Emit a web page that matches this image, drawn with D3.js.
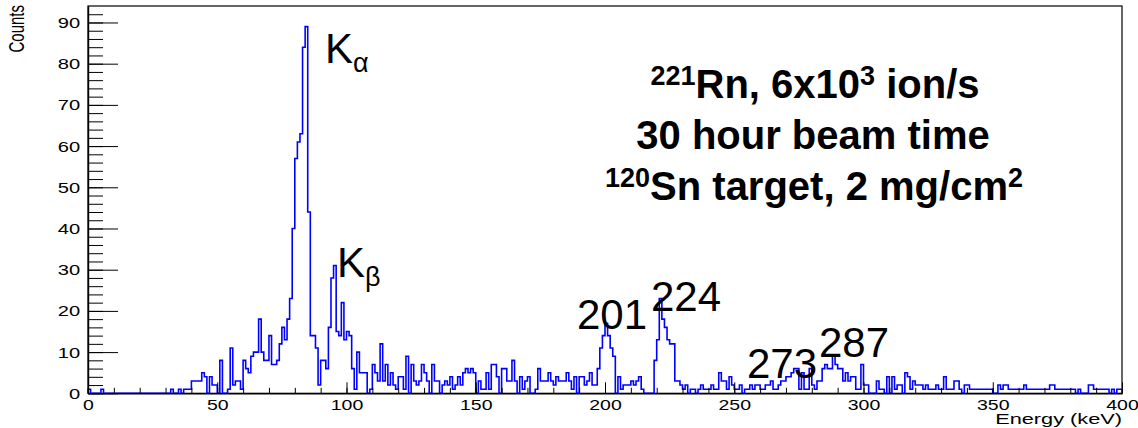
<!DOCTYPE html>
<html>
<head>
<meta charset="utf-8">
<script src="https://cdn.jsdelivr.net/npm/d3@7"></script>
<style>
  body { margin: 0; background: #fff; }
  text { font-family: "Liberation Sans", Arial, sans-serif; }
</style>
</head>
<body>
<svg id="chart" width="1138" height="428"></svg>
<script>
// counts per 1 keV bin
const counts0 = [1,0,0,0,0,1,0,0,0,0, 0,0,0,0,0,0,0,0,0,0, 0,0,0,0,0,0,0,0,0,0, 0,0,1,0,0,1,0,1,1,1, 3,3,3,3,5,4,0,4,2,2];
const counts50 = [0,8,0,0,1,11,2,3,3,1, 8,6,5,9,10,10,18,10,8,8, 14,7,7,8,12,16,13,18,23,40, 57,61,63,84,89,44,14,14,11,2, 8,8,6,16,28,31,15,14,22,13];
const counts100 = [15,14,6,1,10,5,5,5,0,1, 7,5,3,12,3,7,2,5,2,1, 4,4,1,9,0,7,3,2,3,7, 5,3,0,7,3,3,0,2,3,2, 4,1,2,4,2,5,6,5,6,5];
const counts150 = [0,3,1,1,5,1,7,7,4,0, 6,6,3,3,8,3,0,4,1,3, 4,0,0,1,6,3,3,3,5,3, 2,4,3,3,3,5,3,1,4,0, 4,4,2,3,5,2,2,6,11,14];
const counts200 = [17,14,11,9,0,4,1,2,2,2, 3,2,3,4,1,0,0,0,0,8, 13,23,18,16,13,12,12,3,3,2, 1,2,0,1,1,0,1,2,1,1, 1,2,1,1,5,3,3,1,4,2];
const counts250 = [1,1,2,0,1,1,2,1,2,2, 1,1,2,2,3,1,1,2,3,3, 4,4,5,6,6,1,5,1,1,6, 2,1,3,3,6,7,6,6,9,7, 6,6,3,5,3,4,4,1,1,7];
const counts300 = [2,2,0,0,0,3,1,1,0,4, 0,4,1,2,2,0,5,4,1,3, 2,2,2,1,2,1,1,1,2,1, 1,4,1,1,1,3,3,1,0,2, 2,1,1,1,1,1,1,1,1,1];
const counts350 = [0,0,2,1,2,2,1,1,1,1, 1,1,2,1,1,1,1,1,1,1, 1,1,2,2,1,1,1,1,1,1, 1,1,0,1,0,0,0,2,2,1, 1,1,1,1,1,0,1,0,1,1];
const counts = [].concat(counts0, counts50, counts100, counts150, counts200, counts250, counts300, counts350);

const xMajor = d3.range(0, 401, 50);
const xMinor = d3.range(0, 401, 10);
const yMajor = d3.range(0, 91, 10);
const yMinor = d3.range(0, 94, 2);

// peak labels [text, x px, baseline px]
const peakLabels = [["201", 577, 329], ["224", 651, 311], ["273", 747, 378], ["287", 819, 357]];

const svg = d3.select("#chart");
const frame = { left: 88, right: 1122, top: 6, bottom: 393.3 };
const sx = 1.3;   // ROOT labels look stretched sideways

const x = d3.scaleLinear().domain([0, 400]).range([frame.left, frame.right]);
const y = d3.scaleLinear().domain([0, 94]).range([frame.bottom, frame.top]);

// frame
svg.append("rect")
  .attr("x", frame.left).attr("y", frame.top)
  .attr("width", frame.right - frame.left).attr("height", frame.bottom - frame.top)
  .attr("fill", "none").attr("stroke", "#000").attr("stroke-width", 1.2);

// histogram outline
const pts = [[0, 0]];
counts.forEach((c, i) => { pts.push([i, c]); pts.push([i + 1, c]); });
pts.push([counts.length, 0]);

svg.append("path")
  .datum(pts)
  .attr("fill", "none")
  .attr("stroke", "#0000ff")
  .attr("stroke-width", 1.6)
  .attr("d", d3.line().x(d => x(d[0])).y(d => y(d[1])));

// x axis
const gxMinor = svg.append("g")
  .attr("transform", `translate(0,${frame.bottom})`)
  .call(d3.axisBottom(x).tickValues(xMinor).tickSize(-5.5).tickFormat(""));
gxMinor.select(".domain").remove();

const gx = svg.append("g")
  .attr("transform", `translate(0,${frame.bottom})`)
  .call(d3.axisBottom(x).tickValues(xMajor).tickSize(-11).tickPadding(6).tickSizeOuter(0));
gx.select(".domain").attr("stroke-width", 1.6);
gx.selectAll("text")
  .attr("transform", `scale(${sx},1)`)
  .style("font-size", "15px").attr("fill", "#000");

// y axis
const gyMinor = svg.append("g")
  .attr("transform", `translate(${frame.left},0)`)
  .call(d3.axisLeft(y).tickValues(yMinor).tickSize(-15).tickFormat(""));
gyMinor.select(".domain").remove();

const gy = svg.append("g")
  .attr("transform", `translate(${frame.left},0)`)
  .call(d3.axisLeft(y).tickValues(yMajor).tickSize(-30).tickPadding(6).tickSizeOuter(0));
gy.select(".domain").attr("stroke-width", 1.4);
gy.selectAll("text")
  .attr("transform", `scale(${sx},1)`)
  .style("font-size", "15.5px").attr("fill", "#000");

svg.selectAll(".tick line").attr("stroke", "#000");

// axis titles
svg.append("text")
  .attr("transform", `translate(1122,424) scale(1.45,1)`)
  .attr("text-anchor", "end")
  .style("font-size", "15px")
  .text("Energy (keV)");

svg.append("text")
  .attr("transform", `translate(24,5) scale(1.45,1) rotate(-90)`)
  .attr("text-anchor", "end")
  .style("font-size", "15px")
  .text("Counts");

// K lines
const ka = svg.append("text").attr("x", 325).attr("y", 63).style("font-size", "42px");
ka.append("tspan").text("K");
ka.append("tspan").attr("dy", 9).style("font-size", "27px").text("α");

const kb = svg.append("text").attr("x", 337).attr("y", 277).style("font-size", "42px");
kb.append("tspan").text("K");
kb.append("tspan").attr("dy", 9).style("font-size", "27px").text("β");

svg.selectAll("text.peak")
  .data(peakLabels)
  .enter().append("text")
    .attr("class", "peak")
    .attr("x", d => d[1])
    .attr("y", d => d[2])
    .style("font-size", "42px")
    .text(d => d[0]);

// info block
const info = svg.append("g")
  .attr("text-anchor", "middle")
  .style("font-weight", "bold")
  .style("font-size", "40px");

const l1 = info.append("text").attr("x", 815).attr("y", 98);
l1.append("tspan").attr("dy", -13).style("font-size", "27px").text("221");
l1.append("tspan").attr("dy", 13).text("Rn, 6x10");
l1.append("tspan").attr("dy", -13).style("font-size", "27px").text("3");
l1.append("tspan").attr("dy", 13).text(" ion/s");

info.append("text").attr("x", 813).attr("y", 149).text("30 hour beam time");

const l3 = info.append("text").attr("x", 814).attr("y", 200);
l3.append("tspan").attr("dy", -13).style("font-size", "27px").text("120");
l3.append("tspan").attr("dy", 13).text("Sn target, 2 mg/cm");
l3.append("tspan").attr("dy", -13).style("font-size", "27px").text("2");
</script>
</body>
</html>
